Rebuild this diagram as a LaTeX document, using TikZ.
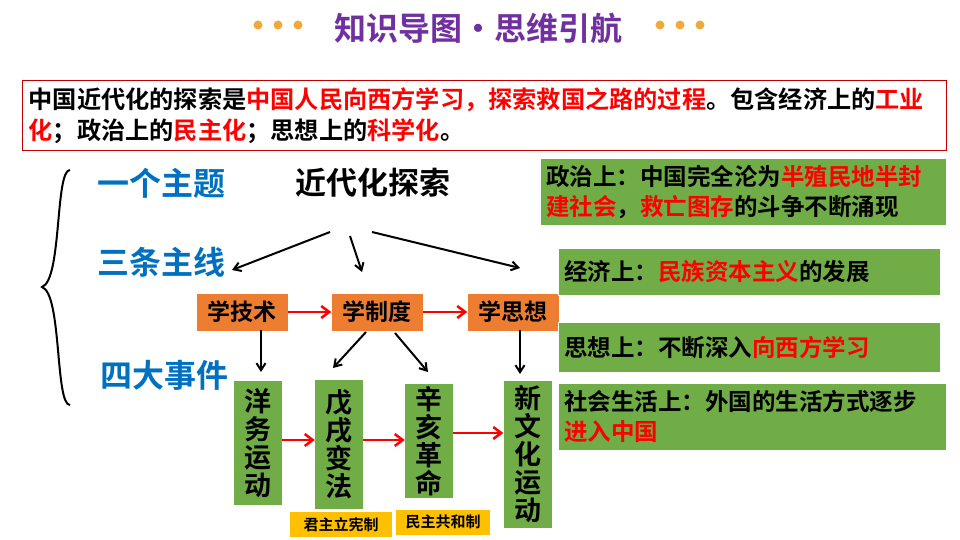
\documentclass[tikz,border=0pt]{standalone}
\usepackage{fontspec}
\setmainfont{Noto Sans CJK SC Bold}
\usetikzlibrary{arrows.meta}
\definecolor{pur}{RGB}{112,48,160}
\definecolor{dot}{RGB}{240,170,60}
\definecolor{org}{RGB}{237,125,49}
\definecolor{grn}{RGB}{112,173,71}
\definecolor{blu}{RGB}{0,112,192}
\definecolor{yel}{RGB}{255,192,0}
\definecolor{drd}{RGB}{192,0,0}
\tikzset{x=1pt,y=-1pt,
 orbox/.style={fill=org,minimum width=91pt,minimum height=37pt,font=\fontsize{23}{23}\selectfont,inner sep=0pt},
 gbox/.style={fill=grn,font=\fontsize{27}{28}\selectfont,align=center,inner sep=0pt,minimum width=48pt},
 rbox/.style={fill=grn,draw=white,anchor=north west,font=\fontsize{23.5}{30}\selectfont,align=left,inner sep=6pt,text width=#1},
 ybox/.style={fill=yel,font=\fontsize{15}{15}\selectfont,inner sep=0pt,minimum height=25pt},
 blab/.style={text=blu,font=\fontsize{32}{32}\selectfont},
 ra/.style={-{Straight Barb[length=8pt,width=12pt]},red,line width=2.5pt},
 ba/.style={-{Straight Barb[length=7pt,width=9pt]},black,line width=2pt}}
\newcommand{\rr}[1]{\textcolor{red}{#1}}
\begin{document}
\begin{tikzpicture}
\useasboundingbox (0,0) rectangle (960,540);
\fill[white] (0,0) rectangle (960,540);
\node[text=pur,font=\fontsize{32}{32}\selectfont] (title) at (478,28) {知识导图•思维引航};
\foreach \x in {258,278,298,660,680,700} \fill[dot] (\x,25) circle (4.5);
\node[draw=drd,line width=1.2pt,anchor=north west,minimum width=924pt,minimum height=70pt,text width=912pt,align=left,font=\fontsize{24.2}{31}\selectfont,inner sep=5pt] (top) at (22,80) {中国近代化的探索是\rr{中国人民向西方学习，探索救国之路的过程}。包含经济上的\rr{工业}\\\rr{化}；政治上的\rr{民主化}；思想上的\rr{科学化}。};
\draw[line width=2pt] (70,170) .. controls (55,170) and (62,280) .. (42,287) .. controls (62,294) and (55,405) .. (70,405);
\node[blab] (l1) at (161,183) {一个主题};
\node[blab] (l2) at (161,262) {三条主线};
\node[blab] (l3) at (164,375) {四大事件};
\node[font=\fontsize{31}{31}\selectfont] (main) at (373,183) {近代化探索};
\node[orbox] (a) at (242,312) {学技术};
\node[orbox] (b) at (377,312) {学制度};
\node[orbox] (c) at (513,312) {学思想};
\coordinate (m1) at (330,232); \coordinate (m2) at (350,236); \coordinate (m3) at (372,232);
\draw[ba] (m1) -- (232,270);
\draw[ba] (m2) -- (362,272);
\draw[ba] (m3) -- (520,268);
\draw[ra] (a.east) -- (b.west);
\draw[ra] (b.east) -- (c.west);
\node[gbox,minimum height=124pt] (e1) at (257.5,443) {洋\\务\\运\\动};
\node[gbox,minimum height=129pt] (e2) at (339,444.5) {戊\\戌\\变\\法};
\node[gbox,minimum height=114pt] (e3) at (429,441) {辛\\亥\\革\\命};
\node[gbox,minimum height=147pt] (e4) at (527.5,454.5) {新\\文\\化\\运\\动};
\draw[ba] (261,330) -- (261,372);
\draw[ba] (366,332) -- (333,368);
\draw[ba] (395,333) -- (428,372);
\draw[ba] (520,330) -- (520,374);
\draw[ra] (e1.east|-0,440) -- (e2.west|-0,440);
\draw[ra] (e2.east|-0,440) -- (e3.west|-0,440);
\draw[ra] (e3.east|-0,433) -- (e4.west|-0,433);
\node[ybox,minimum width=102pt] (y1) at (341,524.5) {君主立宪制};
\node[ybox,minimum width=94pt] (y2) at (443,522) {民主共和制};
\node[rbox=394pt,minimum height=67pt] (r1) at (540,158) {政治上：中国完全沦为\rr{半殖民地半封}\\\rr{建社会}，\rr{救亡图存}的斗争不断涌现};
\node[rbox=370pt,minimum height=47pt] (r2) at (558,248) {经济上：\rr{民族资本主义}的发展};
\node[rbox=370pt,minimum height=50pt] (r3) at (558,322) {思想上：不断深入\rr{向西方学习}};
\node[rbox=376pt,minimum height=67pt] (r4) at (558,383) {社会生活上：外国的生活方式逐步\\\rr{进入中国}};
\end{tikzpicture}
\end{document}
